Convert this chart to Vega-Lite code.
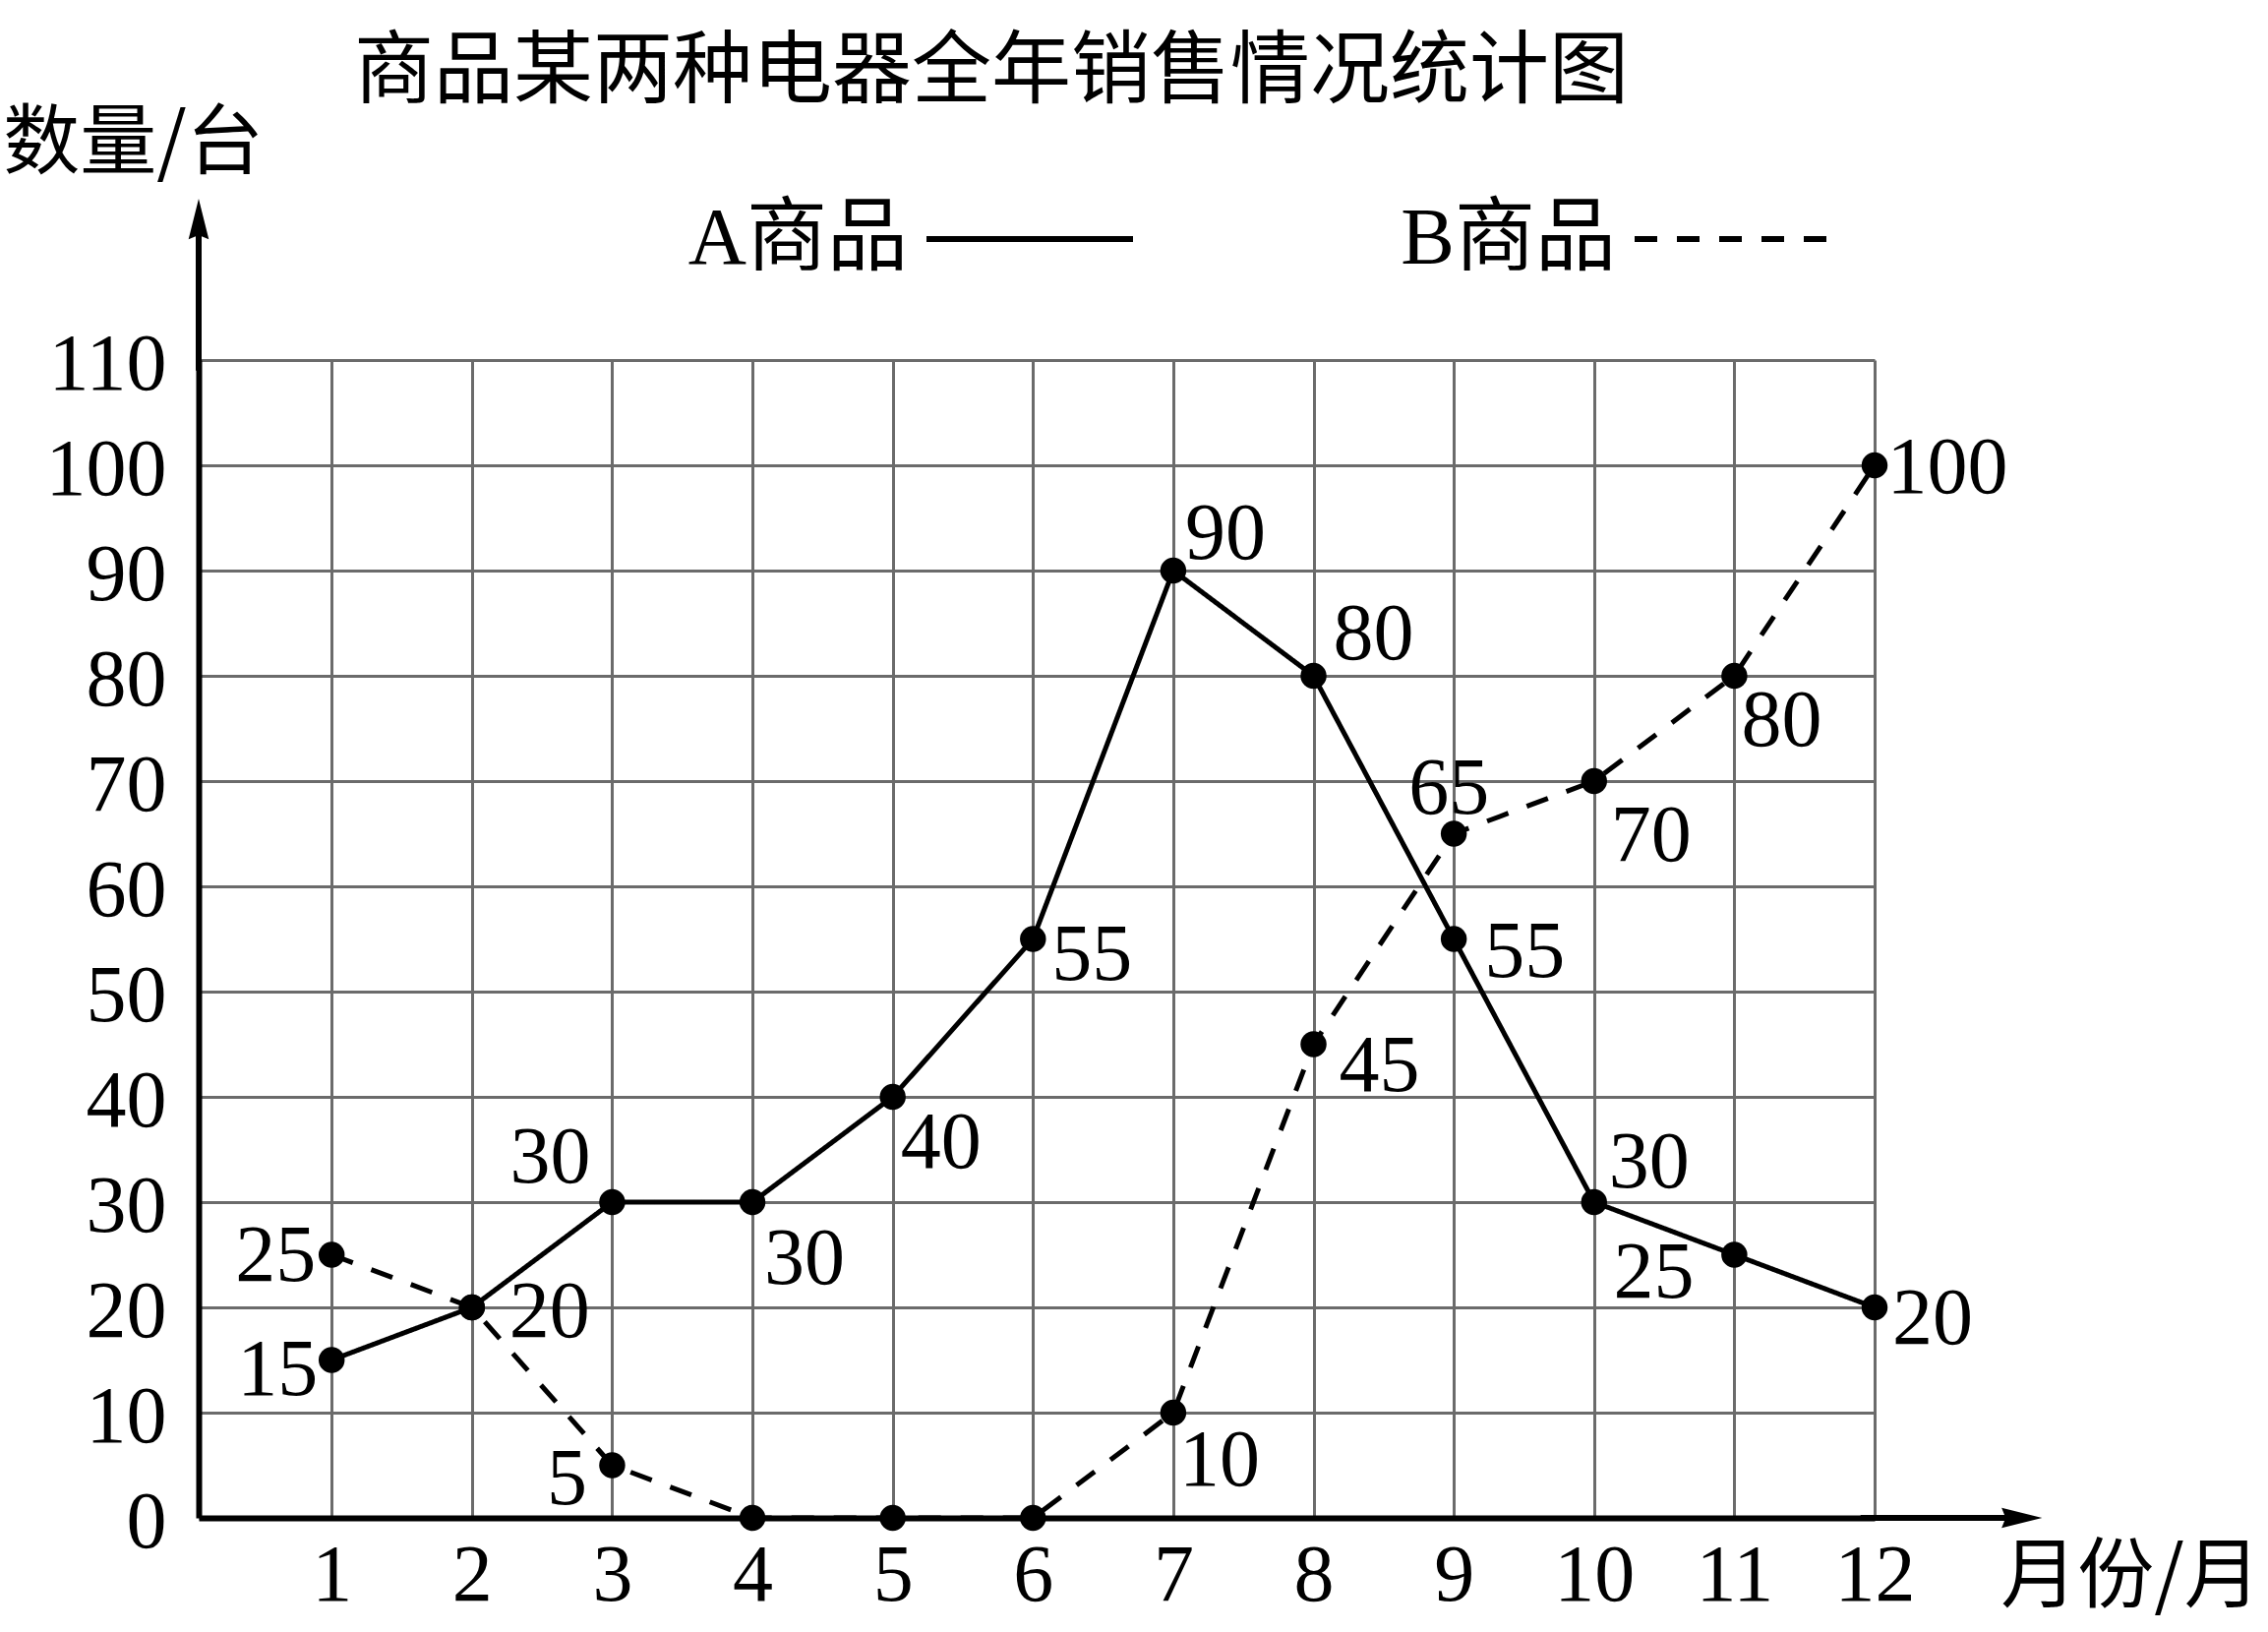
{
  "$schema": "https://vega.github.io/schema/vega-lite/v6.json",
  "width": 1704,
  "height": 1177,
  "autosize": {"type": "none"},
  "padding": {"left": 202, "top": 366, "right": 400, "bottom": 116},
  "background": "white",
  "title": {
    "text": "商品某两种电器全年销售情况统计图",
    "font": "Noto Sans CJK SC",
    "fontSize": 81,
    "fontWeight": "normal",
    "color": "black",
    "anchor": "middle",
    "frame": "group",
    "baseline": "alphabetic",
    "offset": 30,
    "dx": -46,
    "dy": 101
  },
  "config": {
    "view": {"stroke": null},
    "axis": {
      "labelFont": "Liberation Serif",
      "labelFontSize": 82,
      "labelColor": "black",
      "labelOverlap": false,
      "labelFlush": false,
      "ticks": false,
      "domain": true,
      "domainColor": "black",
      "domainWidth": 6,
      "grid": true,
      "gridColor": "#6b6b6b",
      "gridWidth": 3,
      "titleFont": "Noto Sans CJK SC",
      "titleFontSize": 78,
      "titleFontWeight": "normal",
      "titleColor": "black"
    }
  },
  "data": {
    "values": [
      {"m": 1, "s": "A", "v": 15}, {"m": 2, "s": "A", "v": 20}, {"m": 3, "s": "A", "v": 30},
      {"m": 4, "s": "A", "v": 30}, {"m": 5, "s": "A", "v": 40}, {"m": 6, "s": "A", "v": 55},
      {"m": 7, "s": "A", "v": 90}, {"m": 8, "s": "A", "v": 80}, {"m": 9, "s": "A", "v": 55},
      {"m": 10, "s": "A", "v": 30}, {"m": 11, "s": "A", "v": 25}, {"m": 12, "s": "A", "v": 20},
      {"m": 1, "s": "B", "v": 25}, {"m": 2, "s": "B", "v": 20}, {"m": 3, "s": "B", "v": 5},
      {"m": 4, "s": "B", "v": 0}, {"m": 5, "s": "B", "v": 0}, {"m": 6, "s": "B", "v": 0},
      {"m": 7, "s": "B", "v": 10}, {"m": 8, "s": "B", "v": 45}, {"m": 9, "s": "B", "v": 65},
      {"m": 10, "s": "B", "v": 70}, {"m": 11, "s": "B", "v": 80}, {"m": 12, "s": "B", "v": 100}
    ]
  },
  "layer": [
    {
      "mark": {"type": "line", "color": "black", "strokeWidth": 5},
      "encoding": {
        "x": {
          "field": "m",
          "type": "quantitative",
          "scale": {"domain": [0.052, 12], "nice": false, "zero": false},
          "axis": {
            "values": [1, 2, 3, 4, 5, 6, 7, 8, 9, 10, 11, 12],
            "format": "d",
            "labelPadding": 18,
            "title": "月份/月",
            "titleX": 1964,
            "titleY": 84,
            "titleAlign": "center",
            "titleBaseline": "alphabetic",
            "titleAngle": 0
          }
        },
        "y": {
          "field": "v",
          "type": "quantitative",
          "scale": {"domain": [0, 110], "nice": false},
          "axis": {
            "values": [0, 10, 20, 30, 40, 50, 60, 70, 80, 90, 100, 110],
            "format": "d",
            "labelPadding": 33,
            "labelOffset": 4,
            "title": "数量/台",
            "titleX": -67,
            "titleY": -196,
            "titleAlign": "center",
            "titleBaseline": "alphabetic",
            "titleAngle": 0
          }
        },
        "strokeDash": {
          "field": "s",
          "type": "nominal",
          "scale": {"domain": ["A", "B"], "range": [[1, 0], [23, 20]]},
          "legend": {
            "title": null,
            "orient": "none",
            "direction": "horizontal",
            "legendX": 737,
            "legendY": -231,
            "padding": 0,
            "symbolType": "stroke",
            "symbolSize": 44100,
            "symbolStrokeWidth": 6,
            "symbolStrokeColor": "black",
            "labelExpr": "datum.label + '商品'",
            "labelFont": "Liberation Serif, Noto Sans CJK SC",
            "labelFontSize": 82,
            "labelColor": "black",
            "labelAlign": "right",
            "labelBaseline": "middle",
            "labelOffset": -232,
            "labelLimit": 500,
            "columnPadding": 260
          }
        }
      }
    },
    {
      "mark": {"type": "point", "shape": "circle", "filled": true, "color": "black", "opacity": 1, "size": 700},
      "encoding": {
        "x": {"field": "m", "type": "quantitative"},
        "y": {"field": "v", "type": "quantitative"}
      }
    },
    {
      "transform": [{"filter": "!(datum.s == 'B' && (datum.m == 2 || datum.v == 0))"}],
      "mark": {
        "type": "text",
        "font": "Liberation Serif",
        "fontSize": 82,
        "color": "black",
        "align": "center",
        "baseline": "middle",
        "dx": {"expr": "({A1:-55,A2:79,A3:-63,A4:53,A5:49,A6:60,A7:53,A8:61,A9:72,A10:56,A11:-82,A12:59,B1:-57,B3:-46,B7:47,B8:67,B9:-5,B10:58,B11:48,B12:74})[datum.s + datum.m]"},
        "dy": {"expr": "({A1:10,A2:5,A3:-45,A4:58,A5:47,A6:16,A7:-37,A8:-42,A9:13,A10:-40,A11:18,A12:12,B1:1,B3:14,B7:49,B8:22,B9:-46,B10:56,B11:46,B12:3})[datum.s + datum.m]"}
      },
      "encoding": {
        "x": {"field": "m", "type": "quantitative"},
        "y": {"field": "v", "type": "quantitative"},
        "text": {"field": "v", "type": "quantitative", "format": "d"}
      }
    },
    {
      "data": {"values": [{"end": "x"}]},
      "mark": {"type": "rule", "color": "black", "strokeWidth": 6},
      "encoding": {
        "x": {"datum": 11.9},
        "x2": {"datum": 13.0},
        "y": {"datum": 0}
      }
    },
    {
      "data": {"values": [{"end": "y"}]},
      "mark": {"type": "rule", "color": "black", "strokeWidth": 6},
      "encoding": {
        "x": {"datum": 0.052},
        "y": {"datum": 109},
        "y2": {"datum": 122.7}
      }
    },
    {
      "data": {"values": [{"end": "x"}]},
      "mark": {"type": "point", "shape": "M1,0L-1,-0.5L-0.8,0L-1,0.5Z", "filled": true, "color": "black", "opacity": 1, "size": 1700, "strokeWidth": 0},
      "encoding": {
        "x": {"datum": 13.05},
        "y": {"datum": 0}
      }
    },
    {
      "data": {"values": [{"end": "y"}]},
      "mark": {"type": "point", "shape": "M0,-1L0.5,1L0,0.8L-0.5,1Z", "filled": true, "color": "black", "opacity": 1, "size": 1700, "strokeWidth": 0},
      "encoding": {
        "x": {"datum": 0.052},
        "y": {"datum": 123.4}
      }
    }
  ]
}
